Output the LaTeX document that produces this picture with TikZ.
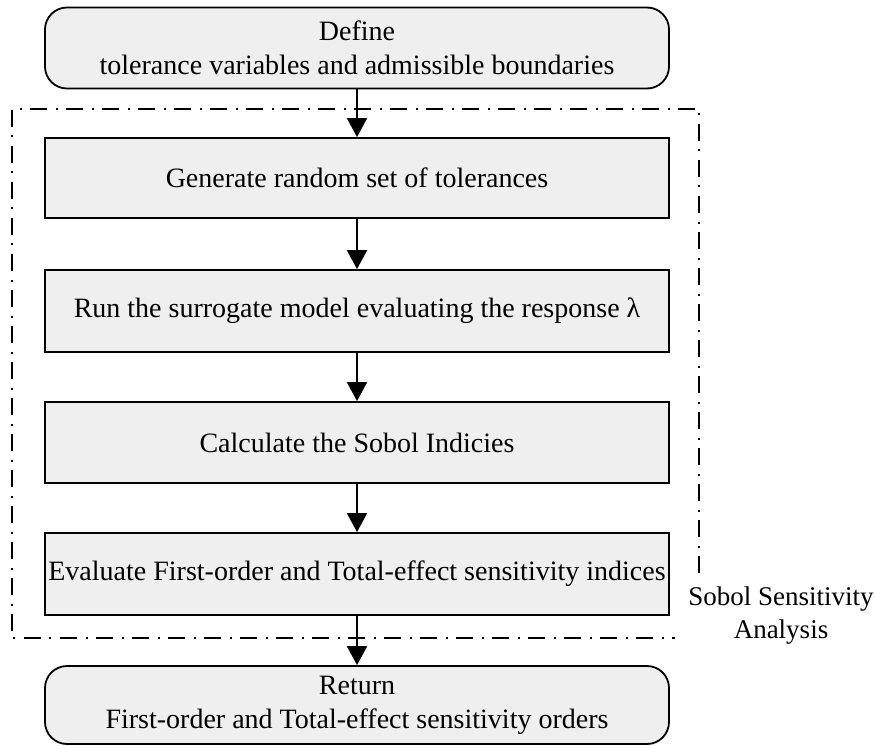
\documentclass[tikz,border=0pt]{standalone}
\usepackage{fontspec}
\setmainfont{Liberation Serif}
\usetikzlibrary{arrows.meta}
\definecolor{boxfill}{HTML}{EFEFEF}
\tikzset{
  procbox/.style={draw=black, line width=1.8pt, fill=boxfill, minimum width=624pt, inner sep=0pt, align=center, font=\fontsize{28}{34}\selectfont},
  termbox/.style={procbox, rounded corners=22pt},
  flow/.style={line width=2pt, -{Triangle[width=20pt,length=19pt]}},
  frameline/.style={line width=1.8pt, dash pattern=on 17pt off 8.5pt on 2pt off 8.5pt},
  lbl/.style={align=center, font=\fontsize{27}{33}\selectfont, inner sep=0pt}
}
\begin{document}
\begin{tikzpicture}[x=1pt,y=-1pt]
\useasboundingbox (0,0) rectangle (875,746);
\node[termbox, minimum height=81pt] (def) at (357,48) {Define\\tolerance variables and admissible boundaries};
\node[procbox, minimum height=80pt] (gen) at (357,178) {Generate random set of tolerances};
\node[procbox, minimum height=82pt] (run) at (357,311) {Run the surrogate model evaluating the response λ};
\node[procbox, minimum height=81pt] (calc) at (357,442.5) {Calculate the Sobol Indicies};
\node[procbox, minimum height=82pt] (eval) at (357,574) {Evaluate First-order and Total-effect sensitivity indices};
\node[termbox, minimum height=78pt] (ret) at (357,705) {Return\\First-order and Total-effect sensitivity orders};
\coordinate (fa) at (675,638);
\coordinate (fb) at (12,638);
\coordinate (fc) at (12,109);
\coordinate (fd) at (699,109);
\coordinate (fe) at (699,573);
\draw[frameline] (fe) -- (fd) -- (fc) -- (fb) -- (fa);
\node[lbl] (sobol) at (781,616) {Sobol Sensitivity\\Analysis};
\draw[flow] (def) -- (gen);
\draw[flow] (gen) -- (run);
\draw[flow] (run) -- (calc);
\draw[flow] (calc) -- (eval);
\draw[flow] (eval) -- (ret);
\end{tikzpicture}
\end{document}
